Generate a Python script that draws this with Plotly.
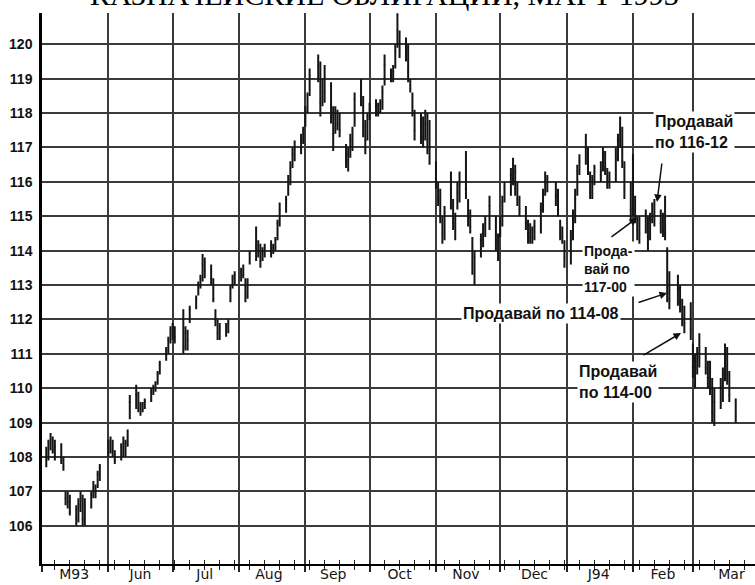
import plotly.graph_objects as go

# ---------------- data ----------------
MAY_DAYS = [3, 4, 5, 6, 7, 10, 11, 12, 13, 14, 17, 18, 19, 20, 21, 24, 25, 26, 27, 28]
MAY_HIGH = [108.3, 108.5, 108.7, 108.6, 108.5, 108.4, 108.0, 107.0, 107.0, 106.9, 106.6, 106.8, 107.0, 106.9, 106.8, 107.0, 107.3, 107.2, 107.6, 107.8]
MAY_LOW = [107.7, 107.9, 108.2, 108.1, 107.9, 107.8, 107.6, 106.6, 106.5, 106.3, 106.0, 106.1, 106.4, 106.0, 106.0, 106.5, 106.8, 106.8, 107.1, 107.3]
MAY_CLOSE = [108.1, 108.4, 108.5, 108.2, 108.3, 107.9, 107.7, 106.8, 106.7, 106.4, 106.2, 106.6, 106.8, 106.2, 106.6, 106.9, 107.1, 107.0, 107.5, 107.7]

JUN_DAYS = [1, 2, 3, 4, 7, 8, 9, 10, 11, 14, 15, 16, 17, 18, 21, 22, 23, 24, 25, 28, 29, 30]
JUN_HIGH = [108.5, 108.6, 108.5, 108.2, 108.4, 108.6, 108.5, 108.8, 109.8, 110.1, 109.9, 109.6, 109.6, 109.7, 110.0, 110.1, 110.2, 110.5, 110.8, 111.2, 111.5, 111.8]
JUN_LOW = [108.0, 108.1, 108.0, 107.8, 107.9, 108.0, 108.0, 108.3, 109.1, 109.4, 109.3, 109.2, 109.3, 109.4, 109.6, 109.8, 109.9, 110.1, 110.4, 110.8, 111.0, 111.3]
JUN_CLOSE = [108.3, 108.4, 108.2, 107.9, 108.3, 108.1, 108.4, 108.6, 109.6, 109.8, 109.4, 109.5, 109.4, 109.6, 109.9, 110.0, 110.1, 110.4, 110.7, 111.1, 111.4, 111.6]

JUL_DAYS = [1, 2, 6, 7, 8, 9, 12, 13, 14, 15, 16, 19, 20, 21, 22, 23, 26, 27, 28, 29, 30]
JUL_HIGH = [111.9, 111.8, 112.3, 111.8, 111.7, 112.4, 112.7, 113.1, 113.3, 113.9, 113.8, 113.6, 113.2, 112.3, 112.0, 111.9, 111.9, 112.0, 113.0, 113.3, 113.4]
JUL_LOW = [111.4, 111.3, 111.0, 111.1, 111.1, 111.9, 112.3, 112.7, 112.9, 113.1, 113.2, 113.0, 112.5, 111.8, 111.4, 111.4, 111.5, 111.6, 112.5, 112.9, 113.0]
JUL_CLOSE = [111.7, 111.5, 111.2, 111.6, 111.4, 112.3, 112.6, 113.0, 113.2, 113.6, 113.4, 113.2, 112.6, 112.0, 111.6, 111.7, 111.8, 111.9, 112.9, 113.2, 113.3]

AUG_DAYS = [2, 3, 4, 5, 6, 9, 10, 11, 12, 13, 16, 17, 18, 19, 20, 23, 24, 25, 26, 27, 30, 31]
AUG_HIGH = [113.5, 113.6, 113.2, 113.2, 114.0, 114.7, 114.3, 114.2, 114.1, 114.2, 114.3, 114.2, 114.4, 114.9, 115.4, 115.6, 116.2, 116.6, 117.0, 117.2, 117.4, 117.6]
AUG_LOW = [113.1, 113.2, 112.5, 112.6, 113.6, 113.7, 113.8, 113.5, 113.7, 113.8, 113.8, 113.9, 114.0, 114.3, 114.7, 115.1, 115.6, 115.9, 116.4, 116.6, 116.8, 117.1]
AUG_CLOSE = [113.4, 113.3, 112.7, 113.1, 113.9, 114.1, 114.0, 113.7, 113.9, 114.1, 114.0, 114.1, 114.3, 114.8, 115.2, 115.5, 116.0, 116.4, 116.8, 117.0, 117.2, 117.5]

SEP_DAYS = [1, 2, 3, 7, 8, 9, 10, 13, 14, 15, 16, 17, 20, 21, 22, 23, 24, 27, 28, 29, 30]
SEP_HIGH = [118.2, 118.6, 119.3, 119.7, 119.5, 119.0, 119.4, 118.9, 118.2, 118.2, 118.1, 118.0, 117.1, 117.0, 117.4, 117.6, 118.6, 119.0, 118.5, 117.8, 118.0]
SEP_LOW = [117.6, 118.0, 118.5, 118.9, 117.9, 118.2, 118.3, 117.7, 116.9, 117.4, 117.5, 117.3, 116.4, 116.3, 116.7, 116.9, 117.6, 118.2, 117.3, 116.8, 117.2]
SEP_CLOSE = [118.0, 118.5, 119.1, 119.4, 118.3, 118.8, 118.6, 118.0, 117.4, 118.0, 117.7, 117.5, 116.6, 116.8, 117.2, 117.5, 118.4, 118.5, 117.6, 117.2, 117.9]

OCT_DAYS = [1, 4, 5, 6, 7, 8, 11, 12, 13, 14, 15, 18, 19, 20, 21, 22, 25, 26, 27, 28, 29]
OCT_HIGH = [118.3, 118.4, 118.3, 118.4, 118.8, 119.7, 119.3, 119.4, 120.0, 120.9, 120.4, 120.2, 120.0, 119.0, 118.6, 118.1, 118.0, 117.9, 118.1, 118.0, 117.8]
OCT_LOW = [117.8, 117.9, 117.9, 118.0, 118.1, 118.8, 118.9, 118.9, 119.3, 119.9, 119.6, 119.5, 118.9, 118.6, 117.9, 117.2, 117.1, 117.0, 117.2, 116.8, 116.5]
OCT_CLOSE = [118.1, 118.2, 118.0, 118.3, 118.6, 119.4, 119.1, 119.2, 119.8, 120.4, 120.0, 119.8, 119.2, 118.7, 118.0, 117.5, 117.8, 117.3, 117.7, 117.2, 117.0]

NOV_DAYS = [1, 2, 3, 4, 5, 8, 9, 10, 11, 12, 15, 16, 17, 18, 19, 22, 23, 24, 26, 29, 30]
NOV_HIGH = [116.6, 116.0, 115.8, 115.0, 115.3, 116.3, 115.5, 115.1, 116.0, 116.3, 116.9, 115.5, 115.2, 114.4, 114.0, 114.5, 114.8, 115.0, 115.6, 115.0, 114.5]
NOV_LOW = [115.8, 115.3, 114.8, 114.2, 114.3, 115.2, 114.6, 114.3, 115.2, 115.4, 115.5, 114.7, 114.5, 113.3, 113.0, 113.8, 114.1, 114.4, 114.6, 114.0, 113.7]
NOV_CLOSE = [116.0, 115.5, 115.0, 114.5, 115.1, 115.8, 114.8, 114.7, 115.7, 115.9, 115.8, 115.0, 114.7, 113.6, 113.8, 114.3, 114.5, 114.8, 115.3, 114.3, 114.2]

DEC_DAYS = [1, 2, 3, 6, 7, 8, 9, 10, 13, 14, 15, 16, 17, 20, 21, 22, 23, 27, 28, 29, 30, 31]
DEC_HIGH = [115.0, 115.6, 116.0, 116.4, 116.7, 116.5, 116.0, 115.6, 115.3, 114.9, 114.8, 114.7, 114.9, 115.4, 115.8, 116.3, 116.2, 116.0, 115.8, 114.9, 114.7, 114.3]
DEC_LOW = [114.4, 114.7, 115.4, 115.6, 115.9, 115.6, 115.3, 115.0, 114.6, 114.2, 114.2, 114.2, 114.3, 114.5, 115.1, 115.6, 115.7, 115.3, 115.0, 114.3, 114.2, 113.5]
DEC_CLOSE = [114.8, 115.4, 115.8, 116.2, 116.1, 116.3, 115.5, 115.2, 114.8, 114.5, 114.4, 114.6, 114.7, 115.2, 115.6, 116.0, 116.1, 115.6, 115.2, 114.5, 114.4, 113.8]

JAN_DAYS = [3, 4, 5, 6, 7, 10, 11, 12, 13, 14, 17, 18, 19, 20, 21, 24, 25, 26, 27, 28, 31]
JAN_HIGH = [114.6, 115.2, 115.8, 116.5, 116.8, 117.4, 117.0, 116.3, 116.2, 116.5, 116.6, 117.0, 116.9, 116.4, 116.3, 117.0, 117.4, 117.9, 117.6, 116.6, 116.0]
JAN_LOW = [113.6, 114.3, 114.8, 115.6, 116.2, 116.5, 116.2, 115.5, 115.5, 115.9, 116.0, 116.3, 116.2, 115.8, 115.8, 116.0, 116.6, 117.0, 116.4, 115.5, 114.8]
JAN_CLOSE = [114.3, 115.0, 115.5, 116.3, 116.6, 117.0, 116.4, 115.7, 116.0, 116.3, 116.2, 116.8, 116.4, 116.0, 116.1, 116.7, 117.2, 117.5, 116.6, 115.8, 115.2]

FEB_DAYS = [1, 2, 3, 4, 7, 8, 9, 10, 11, 14, 15, 16, 17, 18, 22, 23, 24, 25, 28]
FEB_HIGH = [116.8, 115.6, 115.0, 115.0, 115.2, 115.0, 115.1, 115.4, 115.5, 115.2, 115.1, 115.6, 114.1, 113.4, 113.3, 113.0, 112.6, 112.4, 112.5]
FEB_LOW = [115.0, 114.8, 114.3, 114.2, 114.5, 114.0, 114.3, 114.8, 114.7, 114.5, 114.4, 114.3, 112.5, 112.3, 112.4, 112.2, 111.8, 111.6, 111.4]
FEB_CLOSE = [115.3, 115.0, 114.6, 114.5, 115.0, 114.4, 114.9, 115.1, 115.0, 114.8, 114.6, 114.5, 112.8, 112.6, 112.9, 112.5, 112.0, 111.9, 111.7]

MAR_DAYS = [1, 2, 3, 4, 7, 8, 9, 10, 11, 14, 15, 16, 17, 18, 21]
MAR_HIGH = [111.3, 111.0, 111.2, 111.6, 111.2, 110.8, 110.8, 110.3, 110.0, 110.3, 110.6, 111.3, 111.2, 110.5, 109.7]
MAR_LOW = [110.3, 110.0, 110.4, 110.6, 110.4, 110.0, 109.8, 109.0, 108.9, 109.4, 109.6, 110.2, 110.1, 109.6, 109.0]
MAR_CLOSE = [110.6, 110.8, 111.0, 110.9, 110.6, 110.3, 110.0, 109.3, 109.6, 110.0, 110.4, 111.0, 110.4, 109.8, 109.2]

MONTH_STARTS = ["1993-05-01", "1993-06-01", "1993-07-01", "1993-08-01", "1993-09-01", "1993-10-01",
                "1993-11-01", "1993-12-01", "1994-01-01", "1994-02-01", "1994-03-01"]
MONTH_LABEL_POS = ["1993-05-16", "1993-06-16", "1993-07-16", "1993-08-15", "1993-09-14", "1993-10-15",
                   "1993-11-15", "1993-12-17", "1994-01-16", "1994-02-15", "1994-03-19"]
MONTH_LABELS = ["M93", "Jun", "Jul", "Aug", "Sep", "Oct", "Nov", "Dec", "J94", "Feb", "Mar"]
Y_TICKS = [106, 107, 108, 109, 110, 111, 112, 113, 114, 115, 116, 117, 118, 119, 120]

TITLE = "КАЗНАЧЕЙСКИЕ ОБЛИГАЦИИ, МАРТ 1993"

# ---------------- assemble ----------------
months = [
    (1993, 5, MAY_DAYS, MAY_HIGH, MAY_LOW, MAY_CLOSE),
    (1993, 6, JUN_DAYS, JUN_HIGH, JUN_LOW, JUN_CLOSE),
    (1993, 7, JUL_DAYS, JUL_HIGH, JUL_LOW, JUL_CLOSE),
    (1993, 8, AUG_DAYS, AUG_HIGH, AUG_LOW, AUG_CLOSE),
    (1993, 9, SEP_DAYS, SEP_HIGH, SEP_LOW, SEP_CLOSE),
    (1993, 10, OCT_DAYS, OCT_HIGH, OCT_LOW, OCT_CLOSE),
    (1993, 11, NOV_DAYS, NOV_HIGH, NOV_LOW, NOV_CLOSE),
    (1993, 12, DEC_DAYS, DEC_HIGH, DEC_LOW, DEC_CLOSE),
    (1994, 1, JAN_DAYS, JAN_HIGH, JAN_LOW, JAN_CLOSE),
    (1994, 2, FEB_DAYS, FEB_HIGH, FEB_LOW, FEB_CLOSE),
    (1994, 3, MAR_DAYS, MAR_HIGH, MAR_LOW, MAR_CLOSE),
]
dates, highs, lows, closes = [], [], [], []
for yr, mo, dd, hh, ll, cc in months:
    for d, h, l, c in zip(dd, hh, ll, cc):
        dates.append(f"{yr}-{mo:02d}-{d:02d}")
        highs.append(h)
        lows.append(l)
        closes.append(c)

X_RANGE = ["1993-05-01", "1994-03-30"]
BAR = "#151515"
GRID = "#3a3a3a"

fig = go.Figure()
fig.add_trace(go.Ohlc(
    x=dates, open=closes, high=highs, low=lows, close=closes,
    increasing=dict(line=dict(color=BAR, width=2)),
    decreasing=dict(line=dict(color=BAR, width=2)),
    tickwidth=0.5, hoverinfo="skip", showlegend=False,
))
# empty helper trace so the month-label axis (x2) gets drawn
fig.add_trace(go.Scatter(x=X_RANGE, y=[None, None], xaxis="x2", yaxis="y",
                         mode="markers", hoverinfo="skip", showlegend=False))

label_font = dict(family="DejaVu Sans", size=14, color="#151515")
note_font = dict(family="Liberation Sans", size=16, color="#111111", weight="bold")
small_note_font = dict(family="Liberation Sans", size=14, color="#111111", weight="bold")

fig.update_layout(
    width=755, height=585,
    margin=dict(l=42, r=0, t=13, b=21),
    paper_bgcolor="white", plot_bgcolor="white",
    showlegend=False,
    xaxis=dict(
        type="date", range=X_RANGE, rangeslider=dict(visible=False),
        tickmode="array", tickvals=MONTH_STARTS, showticklabels=False,
        ticks="outside", ticklen=6, tickwidth=2, tickcolor="#222",
        showgrid=True, gridcolor=GRID, gridwidth=2,
        showline=True, linecolor="black", linewidth=2, zeroline=False,
        minor=dict(ticks="outside", ticklen=4, tickwidth=1.3, tickcolor="#222",
                   dtick=7 * 86400000, tick0="1993-05-07", showgrid=False),
    ),
    xaxis2=dict(
        type="date", range=X_RANGE, overlaying="x", anchor="y", side="bottom",
        tickmode="array", tickvals=MONTH_LABEL_POS, ticktext=MONTH_LABELS,
        ticks="", showgrid=False, showline=False, zeroline=False,
        tickfont=label_font, ticklabelstandoff=0, automargin=False,
        minor=dict(ticks="inside", ticklen=4, tickwidth=1.3, tickcolor="#222",
                   dtick=7 * 86400000, tick0="1993-05-07", showgrid=False),
    ),
    yaxis=dict(
        range=[104.89, 120.91], tickmode="array", tickvals=Y_TICKS,
        ticktext=[str(v) for v in Y_TICKS], ticks="",
        showgrid=True, gridcolor=GRID, gridwidth=2,
        showline=True, linecolor="black", linewidth=2.5, zeroline=False,
        tickfont=dict(family="Liberation Sans", size=14, color="#111111", weight="bold"),
        ticklabelstandoff=4,
    ),
)

annotations = [
    # clipped title at the very top
    dict(text=TITLE, xref="paper", yref="paper", x=0.481, y=1.034, xanchor="center",
         yanchor="middle", showarrow=False,
         font=dict(family="Liberation Serif", size=30, color="black")),
    # text notes
    dict(text="Продавай<br>по 116-12", xref="paper", yref="paper", x=0.857, y=0.822,
         xanchor="left", yanchor="top", align="left", showarrow=False, font=note_font,
         bgcolor="white", borderpad=1),
    dict(text="Прода-<br>вай по<br>117-00", xref="paper", yref="paper", x=0.757, y=0.586,
         xanchor="left", yanchor="top", align="left", showarrow=False, font=small_note_font,
         bgcolor="white", borderpad=1),
    dict(text="Продавай по 114-08", xref="paper", yref="paper", x=0.588, y=0.454,
         xanchor="left", yanchor="middle", align="left", showarrow=False, font=note_font,
         bgcolor="white", borderpad=1),
    dict(text="Продавай<br>по 114-00", xref="paper", yref="paper", x=0.750, y=0.368,
         xanchor="left", yanchor="top", align="left", showarrow=False, font=note_font,
         bgcolor="white", borderpad=1),
]
# arrows (tip positions in paper coords, tail offsets in px)
for tx, ty, ax, ay in [(0.8626, 0.657, 5, -40), (0.8345, 0.628, -27, 20),
                       (0.8766, 0.4918, -30, 10), (0.8962, 0.4192, -39, 23)]:
    annotations.append(dict(text="", xref="paper", yref="paper", x=tx, y=ty, ax=ax, ay=ay,
                            showarrow=True, arrowhead=2, arrowsize=1, arrowwidth=1.5,
                            arrowcolor="#111111", standoff=0, startstandoff=0))
fig.update_layout(annotations=annotations)

fig.write_html(
    "out.html",
    config={"displayModeBar": False},
    post_script="document.body.style.margin='0';document.body.style.overflow='hidden';",
)
